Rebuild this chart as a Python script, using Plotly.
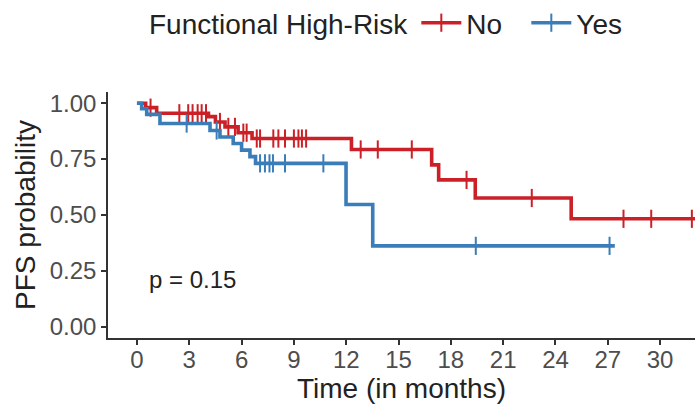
import plotly.graph_objects as go

# ---- data ----
no_times = [0, 0.5, 1.13, 4.1, 4.5, 5.05, 5.8, 6.6, 12.3, 16.9, 17.3, 19.4, 24.9]
no_surv = [1.0, 0.98, 0.955, 0.94, 0.916, 0.894, 0.868, 0.842, 0.793, 0.724, 0.657, 0.576, 0.483]
no_end = 33.0
no_censor = [0.78, 2.43, 2.94, 3.19, 3.48, 3.71, 3.96, 4.76, 5.24, 5.62, 6.1, 6.29,
             6.87, 7.06, 7.82, 8.11, 8.49, 9.0, 9.26, 9.46, 9.7, 12.83, 13.81,
             15.76, 18.9, 22.64, 27.9, 29.49, 31.82]

yes_times = [0, 0.27, 0.56, 1.32, 4.19, 4.76, 5.52, 6.0, 6.48, 6.8, 11.99, 13.52]
yes_surv = [1.0, 0.975, 0.95, 0.909, 0.878, 0.849, 0.82, 0.79, 0.761, 0.731, 0.547, 0.362]
yes_end = 27.4
yes_censor = [2.85, 4.57, 7.06, 7.34, 7.6, 7.8, 8.49, 10.69, 19.43, 27.1]

x_ticks = [0, 3, 6, 9, 12, 15, 18, 21, 24, 27, 30]
y_ticks = [0, 0.25, 0.5, 0.75, 1.0]
y_ticklabels = ["0.00", "0.25", "0.50", "0.75", "1.00"]

groups = ["No", "Yes"]
colors = {"No": "#CB2027", "Yes": "#3A7DB8"}
p_text = "p = 0.15"


def surv_at(times, surv, t):
    s = surv[0]
    for ti, si in zip(times, surv):
        if ti <= t:
            s = si
    return s


fig = go.Figure()
series = {
    "No": (no_times, no_surv, no_end, no_censor),
    "Yes": (yes_times, yes_surv, yes_end, yes_censor),
}
for g in groups:
    times, surv, end, cens = series[g]
    xs = list(times) + [end]
    ys = list(surv) + [surv[-1]]
    fig.add_trace(go.Scatter(x=xs, y=ys, mode="lines", line_shape="hv",
                             line=dict(color=colors[g], width=3.6),
                             showlegend=False, hoverinfo="skip"))
    fig.add_trace(go.Scatter(x=cens, y=[surv_at(times, surv, c) for c in cens],
                             mode="markers",
                             marker=dict(symbol="line-ns", size=13,
                                         line=dict(color=colors[g], width=2)),
                             showlegend=False, hoverinfo="skip"))
    # legend entry
    fig.add_trace(go.Scatter(x=[None], y=[None], mode="lines+markers", name=g,
                             line=dict(color=colors[g], width=3.6),
                             marker=dict(symbol="line-ns", size=13,
                                         line=dict(color=colors[g], width=2))))

fig.add_annotation(x=0.6, y=0.21, xref="x", yref="y", text=p_text,
                   showarrow=False, xanchor="left", yanchor="middle",
                   font=dict(size=24, color="#222222", family="Liberation Sans, Arial"))

fig.update_layout(
    width=695, height=407,
    margin=dict(l=108, r=0, t=92, b=69),
    paper_bgcolor="white", plot_bgcolor="white",
    font=dict(family="Liberation Sans, Arial", color="#222222"),
    legend=dict(orientation="h", xref="container", yref="container",
                x=147 / 695, xanchor="left", y=1 - 23 / 407, yanchor="middle",
                title=dict(text="Functional High-Risk", font=dict(size=28)),
                font=dict(size=28), itemwidth=40, entrywidth=55,
                bgcolor="rgba(0,0,0,0)"),
    xaxis=dict(range=[-1.66, 32.0], tickvals=x_ticks, ticks="outside", ticklen=5,
               tickwidth=1.5, tickcolor="#333333", showline=True, linecolor="#333333",
               linewidth=1.5, showgrid=False, zeroline=False,
               tickfont=dict(size=24, color="#4D4D4D"), ticklabelstandoff=-6,
               title=dict(text="Time (in months)", font=dict(size=28), standoff=4),
               automargin=False),
    yaxis=dict(range=[-0.05, 1.05], tickvals=y_ticks, ticktext=y_ticklabels,
               ticks="outside", ticklen=5, tickwidth=1.5, tickcolor="#333333",
               showline=True, linecolor="#333333", linewidth=1.5, showgrid=False,
               zeroline=False, tickfont=dict(size=24, color="#4D4D4D"),
               title=dict(text="PFS probability", font=dict(size=28), standoff=6),
               automargin=False),
)

fig.write_html("out.html")
